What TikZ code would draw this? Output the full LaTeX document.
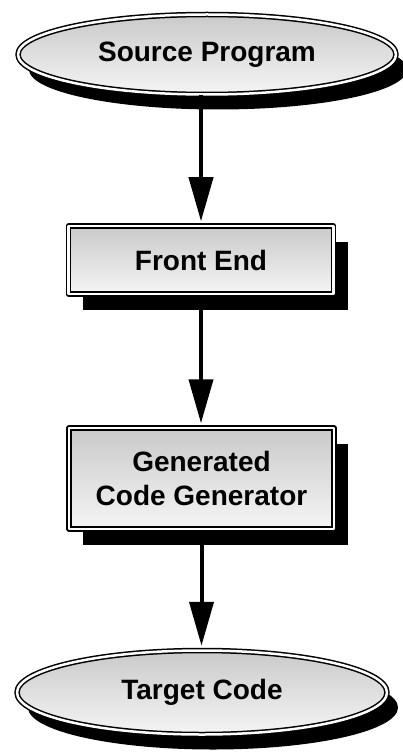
\documentclass[tikz,border=0pt]{standalone}
\usepackage{fontspec}
\setmainfont{Liberation Sans}
\usetikzlibrary{arrows.meta,shapes.geometric,shadows}

\begin{document}
\begin{tikzpicture}[
        x=1pt,
        y=1pt,
        line join=round,
        base/.style={
            draw=black,
            line width=1.5pt,
            double=white,
            double distance=2.5pt,
            top color=black!21,
            bottom color=black!4,
            inner sep=0pt,
            align=center,
            font=\fontsize{28}{34}\selectfont\bfseries
        },
        terminal/.style={
            base,
            ellipse,
            drop shadow={shadow xshift=11pt, shadow yshift=-15pt, fill=black, opacity=1}
        },
        phase/.style={
            base,
            rectangle,
            minimum width=265pt,
            drop shadow={shadow xshift=14pt, shadow yshift=-16pt, fill=black, opacity=1}
        },
        flow/.style={
            line width=4pt,
            -{Triangle[length=44pt, width=24pt]},
            shorten >=4pt
        }
    ]
        % Rahmen des Bildes
        \useasboundingbox (0,0) rectangle (403,-754);

        % Knoten
        \node[terminal, minimum width=378pt, minimum height=80pt]
            (src) at (207,-54.5) {Source Program};
        \node[phase, minimum height=68pt]
            (fe) at (201,-260) {Front End};
        \node[phase, minimum height=101pt]
            (gen) at (201.5,-478.5) {Generated\\Code Generator};
        \node[terminal, minimum width=370pt, minimum height=84pt]
            (tgt) at (202,-692.5) {Target Code};

        % Pfeile
        \draw[flow] (src.south -| fe.north) -- (fe.north);
        \draw[flow] (fe.south) -- (fe.south |- gen.north);
        \draw[flow] (gen.south) -- (gen.south |- tgt.north);
    \end{tikzpicture}
\end{document}
